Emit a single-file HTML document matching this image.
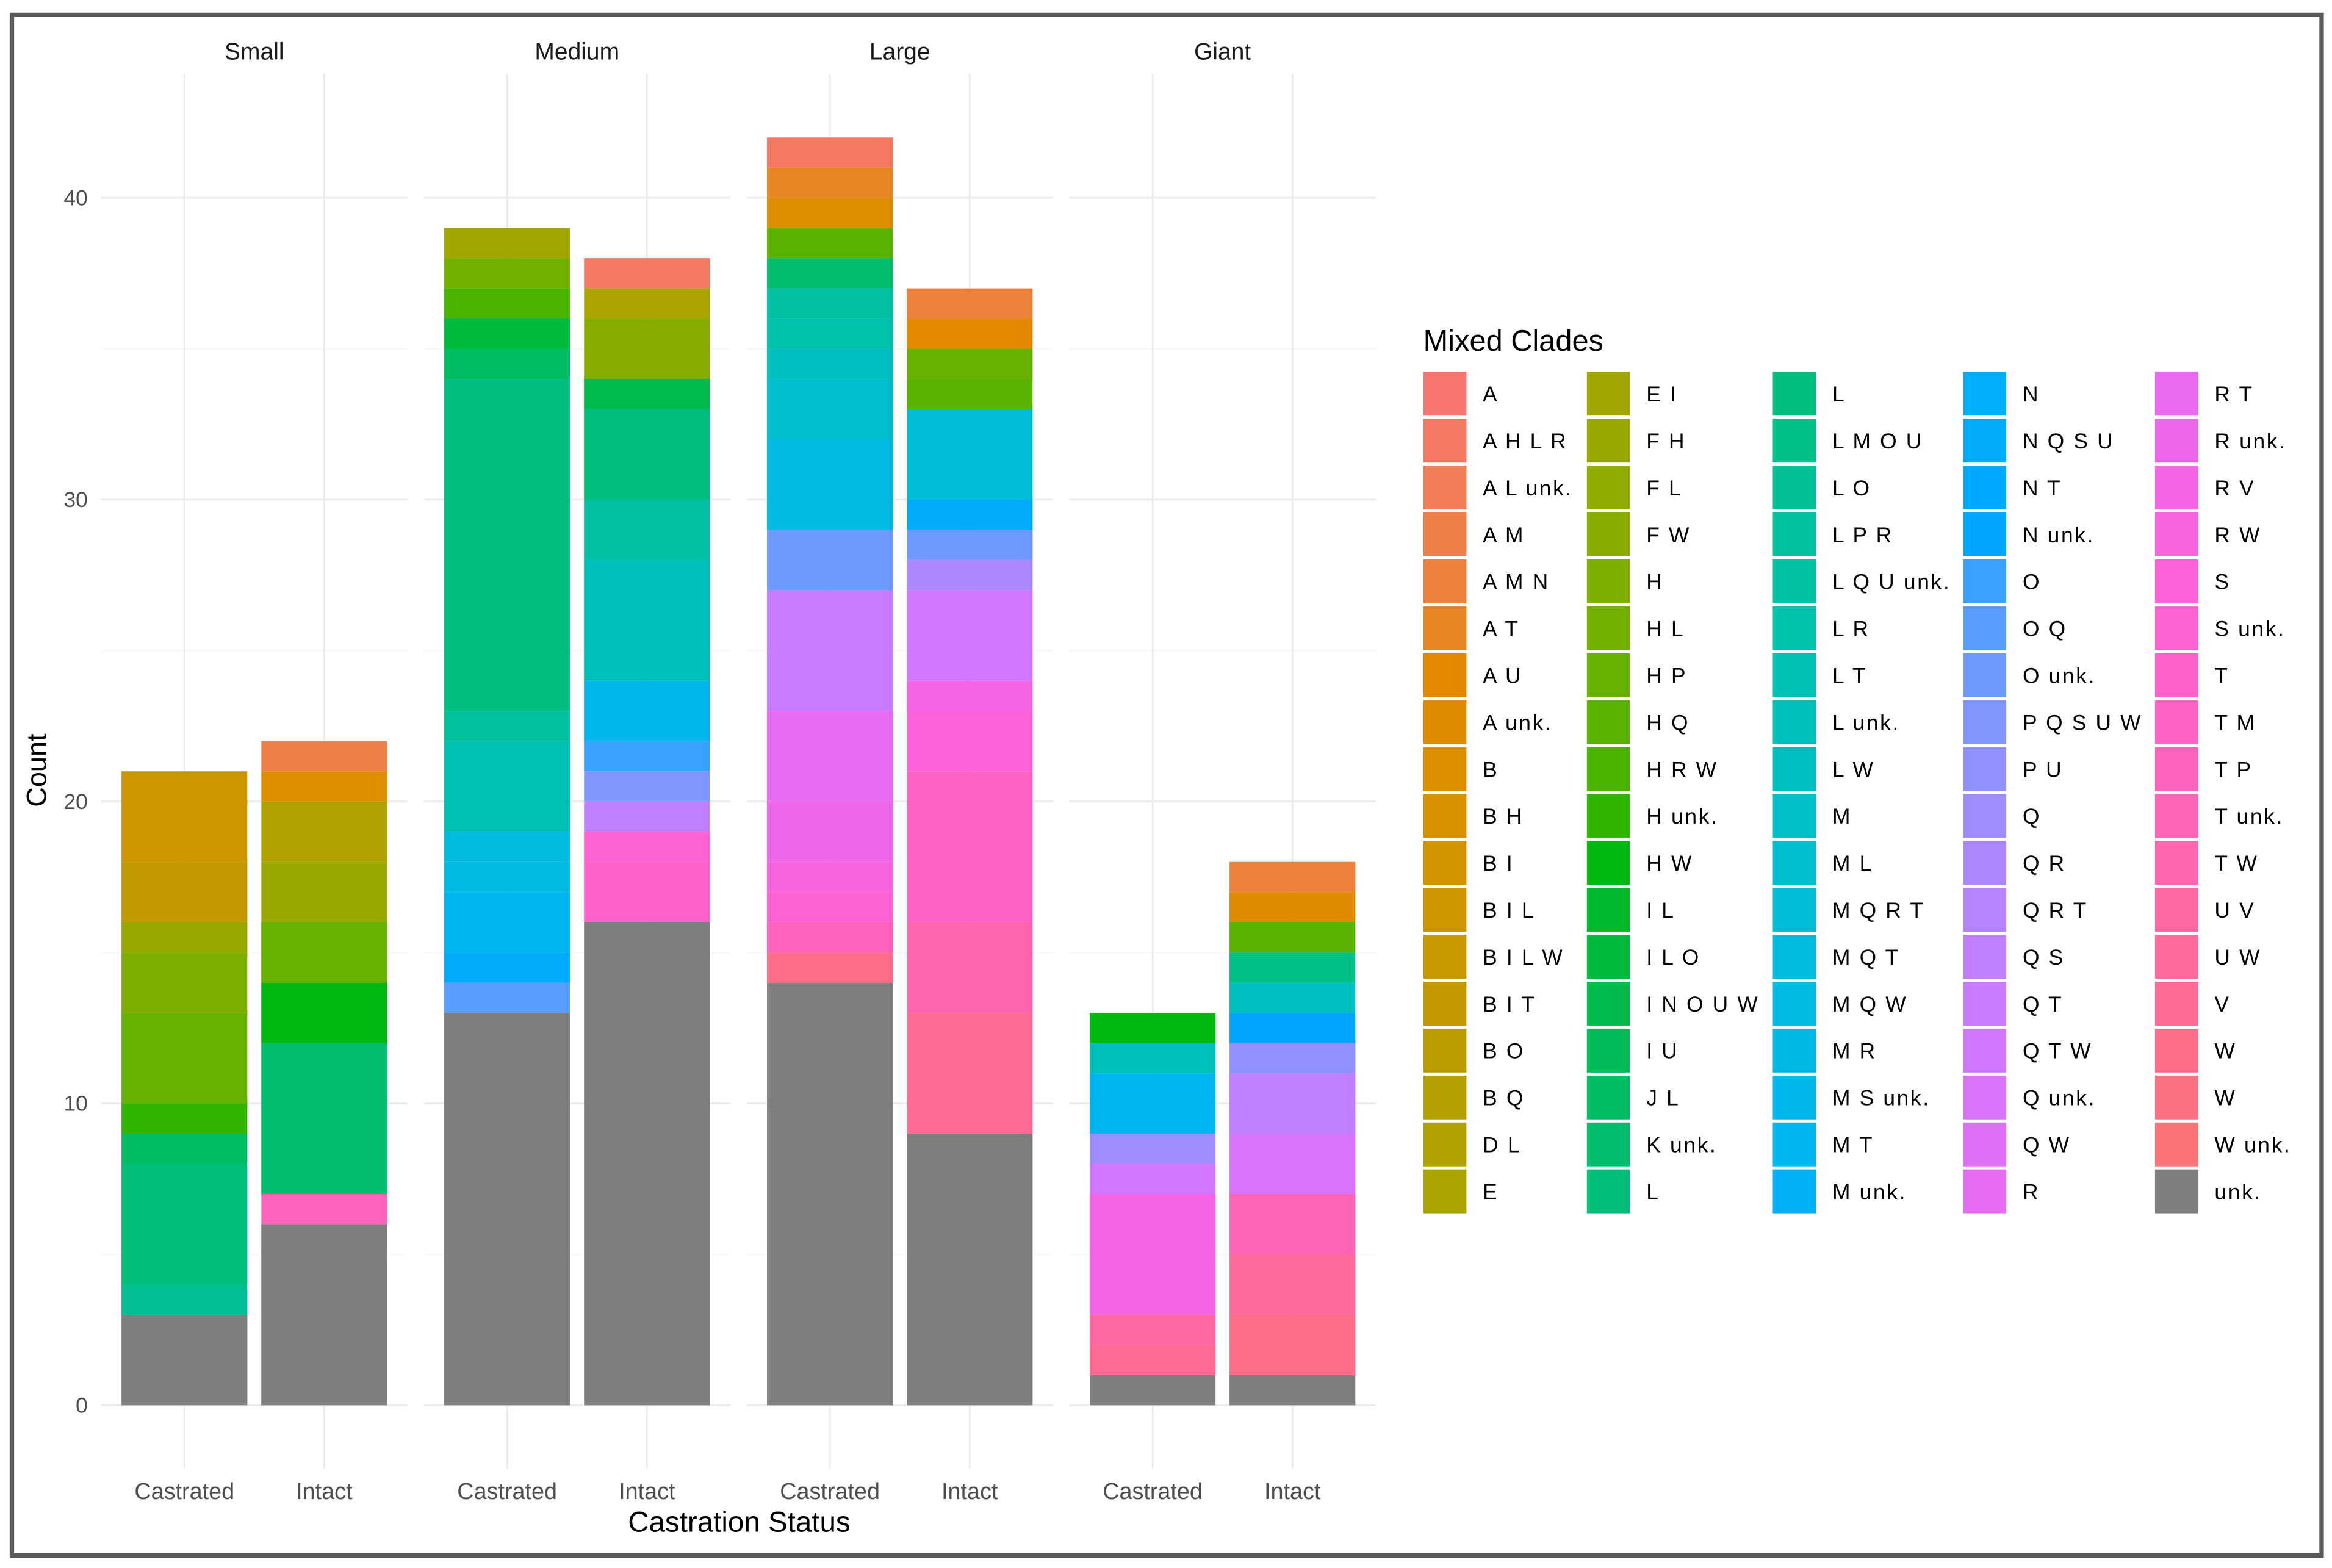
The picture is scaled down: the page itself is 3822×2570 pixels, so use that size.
<!DOCTYPE html>
<html><head><meta charset="utf-8"><style>
html,body{margin:0;padding:0;background:#fff;}
svg{display:block;}
text{font-family:"Liberation Sans",Arial,sans-serif;}
</style></head><body>
<svg id="chart" xmlns="http://www.w3.org/2000/svg" width="3822" height="2570" viewBox="0 0 1568 1054.4" preserveAspectRatio="none">
<rect x="0" y="0" width="1568" height="1054.4" fill="#fff"/>
<rect x="8" y="10" width="1553" height="1036" fill="none" stroke="#595959" stroke-width="3"/>
<g id="grid"></g>
<g id="bars"></g>
<g id="axes"></g>
<g id="legend"></g>
</svg>
<script>
const panels = ["Small","Medium","Large","Giant"];
const statuses = ["Castrated","Intact"];
const yTicks = [0,10,20,30,40];
const clades = ["A","A H L R","A L unk.","A M","A M N","A T","A U","A unk.","B","B H","B I","B I L","B I L W","B I T","B O","B Q","D L","E",
"E I","F H","F L","F W","H","H L","H P","H Q","H R W","H unk.","H W","I L","I L O","I N O U W","I U","J L","K unk.","L",
"L","L M O U","L O","L P R","L Q U unk.","L R","L T","L unk.","L W","M","M L","M Q R T","M Q T","M Q W","M R","M S unk.","M T","M unk.",
"N","N Q S U","N T","N unk.","O","O Q","O unk.","P Q S U W","P U","Q","Q R","Q R T","Q S","Q T","Q T W","Q unk.","Q W","R",
"R T","R unk.","R V","R W","S","S unk.","T","T M","T P","T unk.","T W","U V","U W","V","W","W","W unk.","unk."];
// each bar: [cladeIndex, count] ; 89 = unk.
const smallCastrated = [[11,3],[13,2],[19,1],[22,2],[24,3],[27,1],[33,1],[35,4],[38,1],[89,3]];
const smallIntact = [[3,1],[8,1],[16,2],[19,2],[24,2],[28,2],[34,5],[80,1],[89,6]];
const mediumCastrated = [[18,1],[23,1],[26,1],[30,1],[33,1],[36,11],[39,1],[42,3],[48,1],[49,1],[52,2],[55,1],[59,1],[89,13]];
const mediumIntact = [[1,1],[17,1],[21,2],[31,1],[36,3],[40,2],[43,4],[51,2],[58,1],[61,1],[66,1],[77,1],[78,2],[89,16]];
const largeCastrated = [[1,1],[5,1],[8,1],[25,1],[34,1],[40,1],[41,1],[44,1],[46,2],[49,3],[60,2],[67,4],[71,3],[73,2],[75,1],[77,1],[80,1],[86,1],[89,14]];
const largeIntact = [[4,1],[6,1],[24,1],[25,1],[47,3],[55,1],[60,1],[64,1],[68,3],[74,1],[76,2],[79,5],[82,3],[85,4],[89,9]];
const giantCastrated = [[28,1],[43,1],[52,2],[63,1],[68,1],[74,4],[83,1],[85,1],[89,1]];
const giantIntact = [[4,1],[7,1],[25,1],[37,1],[44,1],[57,1],[62,1],[66,2],[69,2],[81,2],[84,2],[86,2],[89,1]];
const barData = [[smallCastrated,smallIntact],[mediumCastrated,mediumIntact],[largeCastrated,largeIntact],[giantCastrated,giantIntact]];

function hcl(h){const L=65,C=100;const hr=h*Math.PI/180;const u=C*Math.cos(hr),v=C*Math.sin(hr);
const Y=Math.pow((L+16)/116,3);const Xn=95.047,Yn=100,Zn=108.883;const d=Xn+15*Yn+3*Zn;const un=4*Xn/d,vn=9*Yn/d;
const up=u/(13*L)+un,vp=v/(13*L)+vn;const X=Y*9*up/(4*vp),Z=Y*(12-3*up-20*vp)/(4*vp);
let r=3.2406*X-1.5372*Y-0.4986*Z,g=-0.9689*X+1.8758*Y+0.0415*Z,b=0.0557*X-0.2040*Y+1.0570*Z;
const gm=c=>{c=c<=0.0031308?12.92*c:1.055*Math.pow(c,1/2.4)-0.055;return Math.round(Math.max(0,Math.min(1,c))*255);};
return "rgb("+gm(r)+","+gm(g)+","+gm(b)+")";}
function color(i){return i===89?"#7f7f7f":hcl(15+360*i/89);}

const NS="http://www.w3.org/2000/svg";
function mk(tag,attrs,parent){const e=document.createElementNS(NS,tag);for(const k in attrs)e.setAttribute(k,attrs[k]);parent.appendChild(e);return e;}
const gGrid=document.getElementById("grid"),gBars=document.getElementById("bars"),gAxes=document.getElementById("axes"),gLeg=document.getElementById("legend");
const y0=945,unit=20.3;
function yScale(v){return y0-v*unit;}
const panelLeft=68,panelW=206,panelStep=217,catStep=94,barW=84.6;
function xCenter(p,s){return panelLeft+panelStep*p+56+catStep*s;}
const yTop=yScale(44.1),yBot=yScale(-2.1);

panels.forEach((pn,p)=>{
  const px=panelLeft+panelStep*p;
  for(let v=5;v<=40;v+=10){const ln=mk("line",{x1:px,x2:px+panelW,y1:yScale(v),y2:yScale(v),stroke:"#f3f3f3","stroke-width":0.6},gGrid);
  
  }
  yTicks.forEach(v=>{const ln=mk("line",{x1:px,x2:px+panelW,y1:yScale(v),y2:yScale(v),stroke:"#ebebeb","stroke-width":1.2},gGrid);
  
  });
  statuses.forEach((st,s)=>{const cx=xCenter(p,s);
    const ln=mk("line",{x1:cx,x2:cx,y1:yTop,y2:yBot,stroke:"#ebebeb","stroke-width":1.2},gGrid);
    
    
    const segs=barData[p][s].slice().sort((a,b)=>b[0]-a[0]);
    let cum=0;
    segs.forEach(([ci,c])=>{const r=mk("rect",{x:cx-barW/2,y:yScale(cum+c),width:barW,height:c*unit,fill:color(ci)},gBars);
      
      
      cum+=c;});
    const t=mk("text",{x:cx,y:1008,"font-size":15.5,fill:"#4d4d4d","text-anchor":"middle"},gAxes);t.textContent=st;
    
    
  });
  const st=mk("text",{x:px+panelW/2,y:40,"font-size":16,fill:"#1a1a1a","text-anchor":"middle"},gAxes);st.textContent=pn;
  
  
});
yTicks.forEach(v=>{const t=mk("text",{x:59,y:yScale(v)+5,"font-size":14.5,fill:"#4d4d4d","text-anchor":"end"},gAxes);t.textContent=v;
  
  });
const xt=mk("text",{x:497,y:1030,"font-size":19.5,fill:"#000","text-anchor":"middle"},gAxes);xt.textContent="Castration Status";


const yt=mk("text",{x:0,y:0,"font-size":18.5,fill:"#000","text-anchor":"middle",transform:"translate(31,518) rotate(-90)"},gAxes);yt.textContent="Count";



const lt=mk("text",{x:957,y:236,"font-size":20,fill:"#000"},gLeg);lt.textContent="Mixed Clades";


const colX=[957,1067,1192,1320,1449];
clades.forEach((nm,i)=>{const col=Math.floor(i/18),row=i%18;const kx=colX[col],ky=250+row*31.55;
  const k=mk("rect",{x:kx,y:ky,width:29,height:29.5,fill:color(i)},gLeg);
  
  
  const t=mk("text",{x:kx+40,y:ky+20,"font-size":14.5,fill:"#000","letter-spacing":1.1},gLeg);t.textContent=nm;
  
  
});
</script>
</body></html>
